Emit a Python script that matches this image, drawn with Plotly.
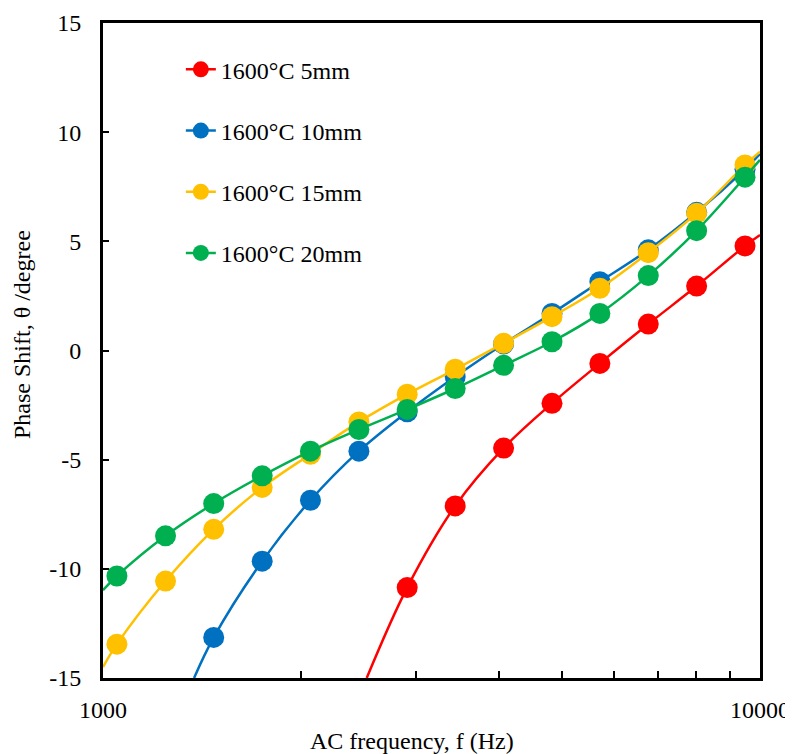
import plotly.graph_objects as go

# ---- data ----
freq = [1050, 1245, 1474, 1747, 2069, 2452, 2904, 3436, 4071, 4824, 5705, 6760, 8008, 9489]

red_freq = freq[6:]
red_vals = [-10.86, -7.12, -4.47, -2.42, -0.59, 1.21, 2.95, 4.79]
red_start = (2520, -15.0)
red_end = (10000, 5.29)

blue_freq = freq[2:]
blue_vals = [-13.14, -9.65, -6.86, -4.61, -2.81, -1.20, 0.30, 1.70, 3.15, 4.61, 6.33, 8.30]
blue_start = (1376, -15.0)
blue_end = (10000, 9.0)

yellow_freq = freq
yellow_vals = [-13.45, -10.56, -8.19, -6.27, -4.75, -3.27, -2.00, -0.86, 0.33, 1.55, 2.85, 4.48, 6.29, 8.50]
yellow_start = (1000, -14.5)
yellow_end = (10000, 9.11)

green_freq = freq
green_vals = [-10.33, -8.49, -7.01, -5.74, -4.61, -3.62, -2.70, -1.74, -0.68, 0.40, 1.70, 3.43, 5.49, 7.94]
green_start = (1000, -10.98)
green_end = (10000, 8.73)

names = ["1600°C 5mm", "1600°C 10mm", "1600°C 15mm", "1600°C 20mm"]
colors = ["#FF0000", "#0070C0", "#FFC000", "#00B050"]

x_tickvals = [1000, 10000]
x_ticktext = ["1000", "10000"]
x_minor = [2000, 3000, 4000, 5000, 6000, 7000, 8000, 9000]
y_tickvals = [-15, -10, -5, 0, 5, 10, 15]
y_ticktext = ["-15", "-10", "-5", "0", "5", "10", "15"]

FONT = "Liberation Serif"

series = [
    (names[0], red_freq, red_vals, red_start, red_end, colors[0]),
    (names[1], blue_freq, blue_vals, blue_start, blue_end, colors[1]),
    (names[2], yellow_freq, yellow_vals, yellow_start, yellow_end, colors[2]),
    (names[3], green_freq, green_vals, green_start, green_end, colors[3]),
]

fig = go.Figure()
for i, (name, fx, fy, st, en, col) in enumerate(series):
    xs = [st[0]] + list(fx) + [en[0]]
    ys = [st[1]] + list(fy) + [en[1]]
    sizes = [0] + [21] * len(fx) + [0]
    fig.add_trace(go.Scatter(
        x=xs, y=ys, name=name, mode="lines+markers",
        line=dict(color=col, width=2.5, shape="spline", smoothing=1.0),
        marker=dict(color=col, size=sizes, opacity=1, line=dict(width=0)),
        legendgroup=f"g{i}",
        cliponaxis=True,
    ))

axis_common = dict(
    showline=True, linewidth=3, linecolor="black", mirror=True,
    showgrid=False, zeroline=False, automargin=False,
    ticks="inside", ticklen=6, tickwidth=2, tickcolor="black",
    tickfont=dict(family=FONT, size=24, color="black"),
)

# page body has an 8px margin, so the figure is drawn 8px smaller with shifted margins
fig.update_layout(
    width=785, height=746,
    margin=dict(l=95, r=33, t=15, b=76, autoexpand=False),
    paper_bgcolor="white", plot_bgcolor="white",
    font=dict(family=FONT, size=24, color="black"),
    xaxis=dict(
        type="log", range=[3, 4],
        tickvals=x_tickvals, ticktext=x_ticktext,
        minor=dict(tickvals=x_minor, ticks="inside", ticklen=7, tickwidth=2,
                   tickcolor="black", showgrid=False),
        ticklabelstandoff=8,
        **axis_common,
    ),
    yaxis=dict(
        range=[-15, 15],
        tickvals=y_tickvals, ticktext=y_ticktext,
        ticklabelstandoff=14,
        **axis_common,
    ),
    legend=dict(
        x=0.1185, y=0.963, xanchor="left", yanchor="top",
        bgcolor="rgba(0,0,0,0)", font=dict(family=FONT, size=24, color="black"),
        tracegroupgap=27, itemsizing="trace",
    ),
    showlegend=True,
    annotations=[
        dict(text="AC frequency, f (Hz)", xref="paper", yref="paper",
             x=(412 - 103) / 657, y=(678 - 741) / 655, xanchor="center", yanchor="middle",
             showarrow=False, font=dict(family=FONT, size=24, color="black")),
        dict(text="Phase Shift, θ /degree", xref="paper", yref="paper",
             x=(22 - 103) / 657, y=(678 - 335) / 655, xanchor="center", yanchor="middle",
             textangle=-90, showarrow=False, font=dict(family=FONT, size=24, color="black")),
    ],
)

fig.write_html("out.html")
